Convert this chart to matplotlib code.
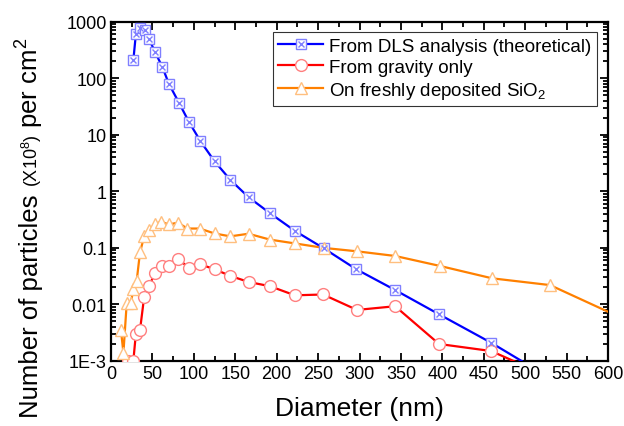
import matplotlib
matplotlib.use("Agg")
import matplotlib.pyplot as plt
from matplotlib.ticker import FixedLocator, FixedFormatter, MultipleLocator, LogLocator, NullFormatter
from matplotlib.legend_handler import HandlerTuple

plt.rcParams['font.family'] = ['Liberation Sans', 'DejaVu Sans']
plt.rcParams['mathtext.fontset'] = 'custom'
plt.rcParams['mathtext.rm'] = 'Liberation Sans'

# ---- data ----
dls_x = [27, 30, 35, 41, 46, 53, 62, 70, 82, 94, 108, 125, 144, 166, 192, 222, 257, 296, 343, 396, 459, 530]
dls_y = [210, 600, 770, 700, 490, 295, 158, 79, 37, 17, 7.7, 3.4, 1.6, 0.79, 0.41, 0.2, 0.098, 0.042,
         0.018, 0.0067, 0.0021, 0.0005]

grav_x = [20, 27, 30, 35, 40, 46, 53, 61, 70, 81, 94, 108, 125, 144, 166, 192, 222, 256, 297, 343, 396, 459, 520]
grav_y = [0.00102, 0.00102, 0.0030, 0.0035, 0.0135, 0.021, 0.036, 0.048, 0.048, 0.063, 0.045, 0.051,
          0.042, 0.032, 0.025, 0.021, 0.0145, 0.015, 0.0080, 0.0093, 0.0020, 0.0015, 0.0006]

sio_x = [12, 15, 19, 24, 27, 31, 35, 40, 46, 53, 60, 70, 81, 92, 107, 125, 144, 166, 192, 222, 257, 297,
         343, 397, 460, 530, 640]
sio_y = [0.0035, 0.0014, 0.0107, 0.0105, 0.019, 0.026, 0.083, 0.16, 0.21, 0.26, 0.29, 0.26, 0.28, 0.22,
         0.22, 0.18, 0.16, 0.178, 0.14, 0.12, 0.10, 0.087, 0.072, 0.048, 0.029, 0.022, 0.004]

y_ticks = [1e-3, 0.01, 0.1, 1, 10, 100, 1000]
y_ticklabels = ['1E-3', '0.01', '0.1', '1', '10', '100', '1000']

labels = ['From DLS analysis (theoretical)', 'From gravity only', 'On freshly deposited SiO$_2$']

# ---- figure ----
fig = plt.figure(figsize=(6.24, 4.27), dpi=100)
ax = fig.add_axes([111/624, 1-362/427, (608-111)/624, (362-22.7)/427])

blue_line, = ax.plot(dls_x, dls_y, '-', color='#0000ff', lw=1.6, zorder=3)
blue_sq, = ax.plot(dls_x, dls_y, 's', ms=7, mfc='white', mec='#7f7fff', mew=1.0, ls='none', zorder=4)
blue_x, = ax.plot(dls_x, dls_y, 'x', ms=4.5, mec='#7f7fff', mew=1.0, ls='none', zorder=5)

red_line, = ax.plot(grav_x, grav_y, '-', color='#ff0000', lw=1.6, zorder=3)
red_m, = ax.plot(grav_x, grav_y, 'o', ms=8.5, mfc='white', mec='#ff7f7f', mew=1.0, ls='none', zorder=4)

or_line, = ax.plot(sio_x, sio_y, '-', color='#ff8000', lw=1.6, zorder=3)
or_m, = ax.plot(sio_x, sio_y, '^', ms=9, mfc='white', mec='#ffbf7f', mew=1.0, ls='none', zorder=4)

ax.set_yscale('log')
ax.set_xlim(0, 600)
ax.set_ylim(1e-3, 1000)

ax.xaxis.set_major_locator(MultipleLocator(50))
ax.xaxis.set_minor_locator(MultipleLocator(25))
ax.yaxis.set_major_locator(FixedLocator(y_ticks))
ax.yaxis.set_major_formatter(FixedFormatter(y_ticklabels))
ax.yaxis.set_minor_locator(LogLocator(base=10, subs=range(2, 10), numticks=20))
ax.yaxis.set_minor_formatter(NullFormatter())

ax.tick_params(which='both', direction='in', top=True, right=True, width=1.3, colors='black')
ax.tick_params(which='major', length=6, labelsize=13, pad=3)
ax.tick_params(which='minor', length=3.5)
for s in ax.spines.values():
    s.set_linewidth(1.6)

ax.set_xlabel('Diameter (nm)', fontsize=19, labelpad=10)

leg = ax.legend([(blue_line, blue_sq, blue_x), (red_line, red_m), (or_line, or_m)], labels,
                handler_map={tuple: HandlerTuple(ndivide=1, pad=0)},
                loc='upper right', bbox_to_anchor=(0.985, 0.98), fontsize=13.5, frameon=True,
                fancybox=False, edgecolor='black', handlelength=2.4, handletextpad=0.3,
                borderpad=0.3, labelspacing=0.2, borderaxespad=0.2)
leg.get_frame().set_linewidth(0.8)

# ---- y label, composed of pieces with different sizes ----
fig.canvas.draw()
renderer = fig.canvas.get_renderer()
xb = 38 / 624
ycur = 9 / 427
pieces = [('Number of particles ', 18.5), (r'(X10$^{8}$)', 13), (r' per cm$^{2}$', 18.5)]
for txt, size in pieces:
    t = fig.text(xb, ycur, txt, rotation=90, rotation_mode='anchor', ha='left', va='baseline',
                 fontsize=size)
    bb = t.get_window_extent(renderer)
    ycur += bb.height / (fig.get_figheight() * fig.dpi)

fig.savefig('out.png', dpi=100)
